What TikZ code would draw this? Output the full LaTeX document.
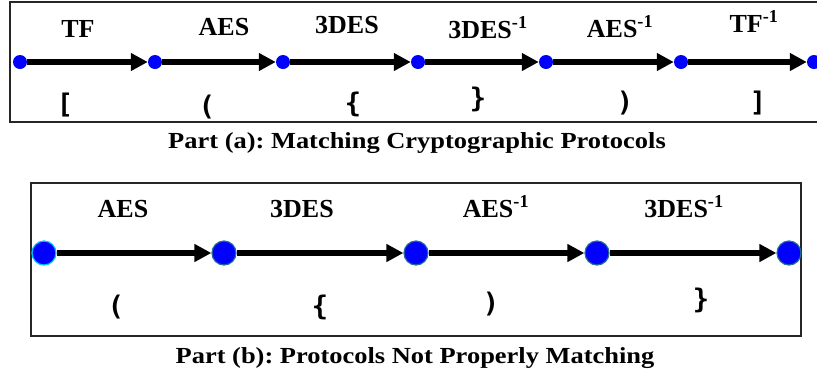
\documentclass[tikz,border=0pt]{standalone}
\usepackage{fontspec}
\usepackage{graphicx}
\setmainfont{Liberation Serif}
\newfontfamily\brkfont{DejaVu Sans Mono}
\usetikzlibrary{arrows.meta}
\frenchspacing
\definecolor{dotblue}{RGB}{0,0,255}
\definecolor{rimcyan}{RGB}{0,200,255}
\definecolor{rimteal}{RGB}{30,110,150}
\tikzset{
  lbl/.style={font=\fontsize{26}{26}\selectfont\bfseries, anchor=base, inner sep=0pt},
  brk/.style={font=\brkfont\fontsize{27}{27}\selectfont\bfseries, inner sep=0pt},
  captext/.style={font=\fontsize{23}{23}\selectfont\bfseries, anchor=base, inner sep=0pt},
  dotA/.style={circle, fill=dotblue, minimum size=14pt, inner sep=0pt},
  dotB/.style={circle, fill=dotblue, draw=rimteal, line width=1.2pt, minimum size=24pt, inner sep=0pt},
  arrA/.style={-{Triangle[length=17pt,width=17pt]}, line width=6pt},
  arrB/.style={-{Triangle[length=17pt,width=17pt]}, line width=6pt},
  frame/.style={draw=black!85, line width=1.8pt}
}
\begin{document}
\begin{tikzpicture}[x=1pt,y=-1pt]
\useasboundingbox (0,0) rectangle (817,373);
% Part (a)
\draw[frame] (10,2) rectangle (822,122);
\node[dotA] (a1) at (20,62) {};
\node[dotA] (a2) at (155,62) {};
\node[dotA] (a3) at (283,62) {};
\node[dotA] (a4) at (418,62) {};
\node[dotA] (a5) at (546,62) {};
\node[dotA] (a6) at (681,62) {};
\node[dotA] (a7) at (814,62) {};
\draw[arrA] (a1) -- (a2);
\draw[arrA] (a2) -- (a3);
\draw[arrA] (a3) -- (a4);
\draw[arrA] (a4) -- (a5);
\draw[arrA] (a5) -- (a6);
\draw[arrA] (a6) -- (a7);
\node[lbl] (la1) at (78,37) {TF};
\node[lbl] (la2) at (224,35) {AES};
\node[lbl] (la3) at (347,33) {3DES};
\node[lbl] (la4) at (488,38) {3DES\textsuperscript{-1}};
\node[lbl] (la5) at (620,37) {AES\textsuperscript{-1}};
\node[lbl] (la6) at (754,32) {TF\textsuperscript{-1}};
\node[brk] (ba1) at (65,105) {[};
\node[brk] (ba2) at (207,107) {(};
\node[brk] (ba3) at (353,104) {\{};
\node[brk] (ba4) at (478,99) {\}};
\node[brk] (ba5) at (625,103) {)};
\node[brk] (ba6) at (758,103) {]};
\node[captext] (capa) at (417,148) {\scalebox{1.15}[1]{Part (a): Matching Cryptographic Protocols}};
% Part (b)
\draw[frame, line width=2pt] (31,183) rectangle (801,336);
\node[dotB, draw=rimcyan] (b1) at (44,253) {};
\node[dotB] (b2) at (224,253) {};
\node[dotB] (b3) at (416,253) {};
\node[dotB] (b4) at (597,253) {};
\node[dotB] (b5) at (789,253) {};
\draw[arrB] (b1) -- (b2);
\draw[arrB] (b2) -- (b3);
\draw[arrB] (b3) -- (b4);
\draw[arrB] (b4) -- (b5);
\node[lbl] (lb1) at (123,217) {AES};
\node[lbl] (lb2) at (302,217) {3DES};
\node[lbl] (lb3) at (496,217) {AES\textsuperscript{-1}};
\node[lbl] (lb4) at (684,217) {3DES\textsuperscript{-1}};
\node[brk] (bb1) at (116,307) {(};
\node[brk] (bb2) at (320,307) {\{};
\node[brk] (bb3) at (491,304) {)};
\node[brk] (bb4) at (701,300) {\}};
\node[captext] (capb) at (415,363) {\scalebox{1.15}[1]{Part (b): Protocols Not Properly Matching}};
\end{tikzpicture}
\end{document}
